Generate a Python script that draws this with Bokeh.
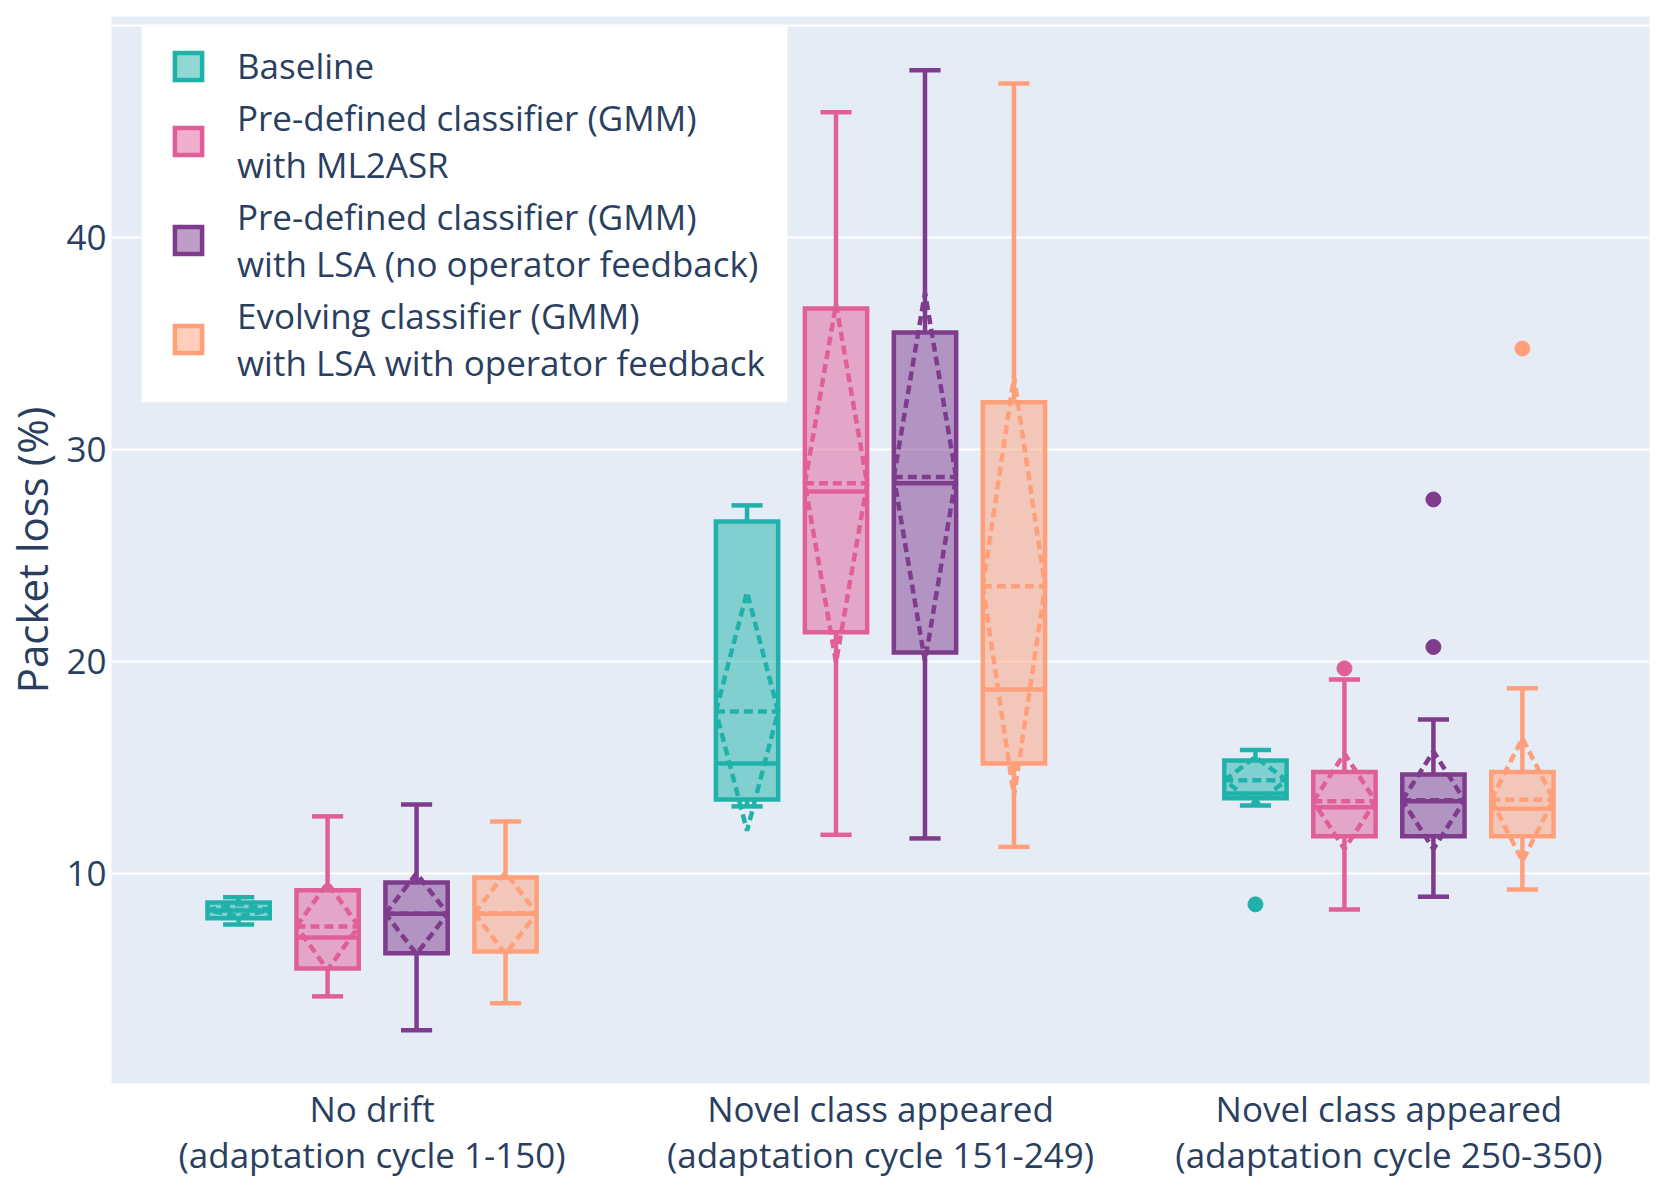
import numpy as np
from bokeh.plotting import figure
from bokeh.models import Range1d, FixedTicker, Legend, LegendItem, BoxAnnotation, ColumnDataSource
from bokeh.embed import file_html
from bokeh.resources import INLINE

categories = [
    "No drift\n(adaptation cycle 1-150)",
    "Novel class appeared\n(adaptation cycle 151-249)",
    "Novel class appeared\n(adaptation cycle 250-350)",
]
series = [
    "Baseline",
    "Pre-defined classifier (GMM)\nwith ML2ASR",
    "Pre-defined classifier (GMM)\nwith LSA (no operator feedback)",
    "Evolving classifier (GMM)\nwith LSA with operator feedback",
]
colors = ["#20B2AA", "#E15F99", "#7F3C8D", "#FFA07A"]

# statistics per series (rows) and category (columns)
lower_whisker = [[7.59, 13.16, 13.20], [4.20, 11.82, 8.30], [2.60, 11.65, 8.90], [3.88, 11.25, 9.24]]
q1 = [[7.88, 13.49, 13.54], [5.52, 21.37, 11.75], [6.23, 20.42, 11.75], [6.32, 15.19, 11.75]]
median = [[8.25, 15.19, 13.77], [6.98, 28.02, 13.12], [8.10, 28.40, 13.40], [8.10, 18.68, 13.05]]
q3 = [[8.63, 26.60, 15.33], [9.20, 36.65, 14.78], [9.57, 35.52, 14.67], [9.81, 32.22, 14.78]]
upper_whisker = [[8.87, 27.36, 15.82], [12.69, 45.90, 19.15], [13.25, 47.88, 17.26], [12.45, 47.26, 18.73]]
mean = [[8.27, 17.64, 14.39], [7.50, 28.40, 13.40], [8.10, 28.70, 13.45], [8.12, 23.54, 13.48]]
sd = [[0.30, 5.63, 1.10], [2.05, 8.45, 2.25], [1.90, 8.70, 2.30], [1.92, 9.90, 2.90]]
outliers = [
    [[], [], [8.54]],
    [[], [], [19.67]],
    [[], [], [20.68, 27.64]],
    [[], [], [34.76]],
]

FONT = "Open Sans"
TXT = "#2a3f5f"
slot = 0.175
bw = slot * 0.7
cw = bw * 0.5
LW = 4.5
DASH = "9 5"

p = figure(width=1653, height=1184, x_range=Range1d(-0.0125, 3.0125), y_range=Range1d(0.09, 50.42),
           output_backend="svg", toolbar_location=None,
           min_border_left=111, min_border_right=4, min_border_top=16, min_border_bottom=101)
p.background_fill_color = "#E5ECF6"
p.border_fill_color = "white"
p.outline_line_color = None
p.xgrid.grid_line_color = None
p.ygrid.grid_line_color = "white"
p.ygrid.grid_line_width = 2
p.ygrid.ticker = FixedTicker(ticks=[10, 20, 30, 40, 50])

p.yaxis.ticker = FixedTicker(ticks=[10, 20, 30, 40, 50])
p.yaxis.major_label_overrides = {50: ""}
p.xaxis.ticker = FixedTicker(ticks=[0.5, 1.5, 2.5])
p.xaxis.major_label_overrides = {0.5 + i: c for i, c in enumerate(categories)}
for ax in (p.xaxis, p.yaxis):
    ax.axis_line_color = None
    ax.major_tick_line_color = None
    ax.minor_tick_line_color = None
    ax.major_tick_out = 0
    ax.major_tick_in = 0
    ax.major_label_text_font = FONT
    ax.major_label_text_font_size = "35px"
    ax.major_label_text_color = TXT
p.xaxis.major_label_standoff = 1
p.xaxis.major_label_text_line_height = 0.98
p.yaxis.major_label_standoff = 5
p.yaxis.axis_label = "Packet loss (%)"
p.yaxis.axis_label_text_font = FONT
p.yaxis.axis_label_text_font_size = "42px"
p.yaxis.axis_label_text_font_style = "normal"
p.yaxis.axis_label_text_color = TXT
p.yaxis.axis_label_standoff = 3

# legend background
p.add_layout(BoxAnnotation(left=0.0465, right=1.3169, bottom=32.22, top=49.95,
                           fill_color="white", fill_alpha=1.0, line_color=None))

items = []
cat_idx = np.arange(len(categories))
for s in range(len(series)):
    c = colors[s]
    x = cat_idx + 0.5 + (s - 1.5) * slot
    lo = np.array(lower_whisker[s]); a = np.array(q1[s]); m = np.array(median[s])
    b = np.array(q3[s]); hi = np.array(upper_whisker[s]); mu = np.array(mean[s]); sg = np.array(sd[s])
    src = ColumnDataSource(dict(x=x, left=x - bw / 2, right=x + bw / 2, cl=x - cw / 2, cr=x + cw / 2,
                                lo=lo, q1=a, med=m, q3=b, hi=hi, mu=mu))
    p.segment(x0="x", y0="q3", x1="x", y1="hi", source=src, line_color=c, line_width=LW)
    p.segment(x0="x", y0="q1", x1="x", y1="lo", source=src, line_color=c, line_width=LW)
    p.segment(x0="cl", y0="hi", x1="cr", y1="hi", source=src, line_color=c, line_width=LW)
    p.segment(x0="cl", y0="lo", x1="cr", y1="lo", source=src, line_color=c, line_width=LW)
    r = p.quad(left="left", right="right", bottom="q1", top="q3", source=src,
               fill_color=c, fill_alpha=0.5, line_color=c, line_width=LW, line_join="miter")
    p.segment(x0="left", y0="med", x1="right", y1="med", source=src, line_color=c, line_width=LW)
    p.segment(x0="left", y0="mu", x1="right", y1="mu", source=src, line_color=c, line_width=LW,
              line_dash=DASH)
    xs = [[xi - bw / 2, xi, xi + bw / 2, xi, xi - bw / 2] for xi in x]
    ys = [[mi, mi + si, mi, mi - si, mi] for mi, si in zip(mu, sg)]
    p.multi_line(xs=xs, ys=ys, line_color=c, line_width=LW, line_dash=DASH)
    ox, oy = [], []
    for k in range(len(categories)):
        for v in outliers[s][k]:
            ox.append(x[k]); oy.append(v)
    if ox:
        p.scatter(ox, oy, size=15, color=c, marker="circle")
    items.append(LegendItem(label=series[s], renderers=[r]))

legend = Legend(items=items, location=(60, 697), orientation="vertical",
                label_text_font=FONT, label_text_font_size="35px", label_text_color=TXT,
                label_text_line_height=1.27, glyph_width=34, glyph_height=34,
                label_standoff=32, spacing=5, padding=10,
                background_fill_alpha=0, border_line_color=None)
p.add_layout(legend)

open("out.html", "w").write(file_html(p, INLINE))
